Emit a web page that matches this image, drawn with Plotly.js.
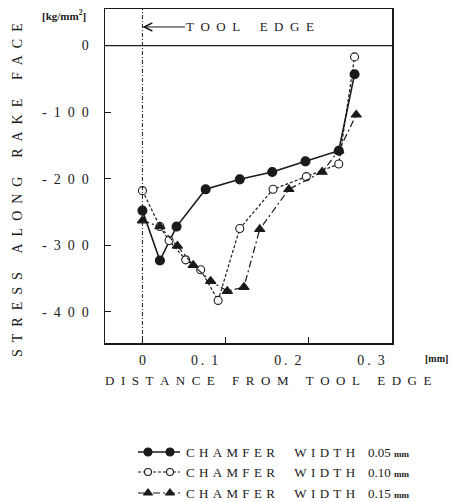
<!DOCTYPE html>
<html>
<head>
<meta charset="utf-8">
<script src="https://cdn.plot.ly/plotly-3.0.1.min.js"></script>
<style>
  html, body { margin: 0; padding: 0; background: #fff; }
  #chart { width: 450px; height: 502px; }
</style>
</head>
<body>
<div id="chart"></div>
<script>
// ---- data ----
const chamferWidths = ['0.05', '0.10', '0.15'];

const distance005 = [0, 0.021, 0.041, 0.076, 0.117, 0.156, 0.196, 0.236, 0.255];
const stress005   = [-248, -323, -272, -216, -201, -190, -174, -158, -43];

const distance010 = [0, 0.021, 0.032, 0.052, 0.070, 0.091, 0.117, 0.157, 0.197, 0.236, 0.255];
const stress010   = [-218, -272, -293, -322, -337, -383, -275, -216, -197, -178, -17];

const distance015 = [0, 0.021, 0.042, 0.061, 0.082, 0.102, 0.122, 0.141, 0.176, 0.216, 0.236, 0.257];
const stress015   = [-263, -272, -301, -330, -354, -369, -363, -276, -216, -190, -158, -104];

const xTickVals = [0, 0.1, 0.2, 0.3];
const xTickText = ['0', '0\u2009.\u20021', '0\u2009.\u20022', '0\u2009.\u20023'];
const yTickVals = [0, -100, -200, -300, -400];
const yTickText = ['0', '-\u20021\u20020\u20020', '-\u20022\u20020\u20020', '-\u20023\u20020\u20020', '-\u20024\u20020\u20020'];

const toolEdgeX = 0;

// ---- helpers ----
const W = 450, H = 502;
const px = v => v / W;
const py = v => 1 - v / H;
function spaced(s, gap, wgap) {
  return s.split(' ').map(w => w.split('').join(gap)).join(wgap);
}
const FONT = 'Liberation Serif, Times New Roman, serif';
const INK = '#1a1a1a';
// trailing pad that nudges the 0.1 / 0.2 / 0.3 labels left, as in the scan
const PAD = '\u2003\u2003\u2003';

const series = [
  {x: distance005, y: stress005, fill: INK,     dash: 'solid',           width: 1.6, size: 9, sym: 'circle'},
  {x: distance010, y: stress010, fill: 'white', dash: '3px,2px',         width: 1.2, size: 8, sym: 'circle'},
  {x: distance015, y: stress015, fill: INK,     dash: '7px,3px,2px,3px', width: 1.2, size: 9, sym: 'triangle-up'}
];

const traces = series.map((s, i) => ({
  type: 'scatter', mode: 'lines+markers',
  x: s.x, y: s.y, xaxis: 'x', yaxis: 'y',
  line: {color: INK, width: s.width, dash: s.dash},
  marker: {symbol: s.sym, size: s.size, color: s.fill, line: {color: INK, width: 1.1}},
  name: 'CHAMFER WIDTH ' + chamferWidths[i],
  showlegend: false, hoverinfo: 'x+y'
}));

// legend keys on an overlay axis measured in page pixels
const legendRows = [452, 472, 493];
series.forEach((s, i) => {
  const yy = legendRows[i];
  traces.push({
    type: 'scatter', mode: 'lines', xaxis: 'x2', yaxis: 'y2',
    x: [138, 180], y: [yy, yy],
    line: {color: INK, width: s.width, dash: s.dash},
    showlegend: false, hoverinfo: 'skip'
  });
  traces.push({
    type: 'scatter', mode: 'markers', xaxis: 'x2', yaxis: 'y2',
    x: [148, 170], y: [yy, yy],
    marker: {symbol: s.sym, size: s.size - 1, color: s.fill, line: {color: INK, width: 1.1}},
    showlegend: false, hoverinfo: 'skip'
  });
});

const annotations = [];
// y axis title
annotations.push({xref: 'paper', yref: 'paper', x: px(17), y: py(190), textangle: -90,
  text: spaced('STRESS ALONG RAKE FACE', '\u2002', '\u2003\u2004'),
  showarrow: false, font: {family: FONT, size: 14, color: INK}, xanchor: 'center', yanchor: 'middle'});
// unit of stress
annotations.push({xref: 'paper', yref: 'paper', x: px(64), y: py(15),
  text: '<b>[kg/mm<sup>2</sup>]</b>', showarrow: false,
  font: {family: FONT, size: 11, color: INK}, xanchor: 'center', yanchor: 'middle'});
// x axis title
annotations.push({xref: 'paper', yref: 'paper', x: px(268), y: py(380),
  text: spaced('DISTANCE FROM TOOL EDGE', '\u2002', '\u2003\u2004'),
  showarrow: false, font: {family: FONT, size: 13, color: INK}, xanchor: 'center', yanchor: 'middle'});
// unit of distance
annotations.push({xref: 'paper', yref: 'paper', x: px(436), y: py(358),
  text: '<b>[mm]</b>', showarrow: false,
  font: {family: FONT, size: 10, color: INK}, xanchor: 'center', yanchor: 'middle'});
// tool edge arrow
annotations.push({xref: 'x', yref: 'y', x: toolEdgeX, y: 28,
  text: spaced('TOOL EDGE', '\u2002', '\u2003\u2002'),
  showarrow: true, arrowhead: 5, arrowsize: 1.6, arrowwidth: 1, arrowcolor: INK,
  ax: 108, ay: 0, standoff: 0,
  font: {family: FONT, size: 13, color: INK}});
// legend texts
chamferWidths.forEach((w, i) => {
  annotations.push({xref: 'paper', yref: 'paper', x: px(184), y: py(legendRows[i]),
    text: spaced('CHAMFER WIDTH', '\u2004', '\u2003\u2002') + '\u2003' + w + ' <b><span style="font-size:9px">mm</span></b>',
    showarrow: false, xanchor: 'left', yanchor: 'middle',
    font: {family: FONT, size: 13, color: INK}});
});

const layout = {
  width: W, height: H,
  margin: {l: 0, r: 0, t: 0, b: 0},
  paper_bgcolor: 'white', plot_bgcolor: 'rgba(0,0,0,0)',
  showlegend: false,
  xaxis: {
    domain: [px(105), px(392)], range: [-0.045, 0.3], anchor: 'y',
    tickvals: xTickVals, ticktext: xTickText.map((t, i) => i === 0 ? t : t + PAD),
    ticks: 'inside', ticklen: 6, tickwidth: 1, tickcolor: INK,
    showline: true, mirror: true, linecolor: INK, linewidth: 1.5,
    showgrid: false, zeroline: false,
    tickfont: {family: FONT, size: 14, color: INK}, ticklabelstandoff: 4
  },
  yaxis: {
    domain: [1 - 343 / H, 1 - 9 / H], range: [-447, 55], anchor: 'x',
    tickvals: yTickVals, ticktext: yTickText,
    ticks: 'inside', ticklen: 6, tickwidth: 1, tickcolor: INK,
    showline: true, mirror: true, linecolor: INK, linewidth: 1.5,
    showgrid: false, zeroline: false,
    tickfont: {family: FONT, size: 14, color: INK}, ticklabelstandoff: 12
  },
  xaxis2: {domain: [0, 1], range: [0, W], anchor: 'y2', visible: false, fixedrange: true},
  yaxis2: {domain: [0, 1], range: [H, 0], anchor: 'x2', visible: false, fixedrange: true},
  shapes: [
    {type: 'line', xref: 'x domain', yref: 'y', x0: 0, x1: 1, y0: 0, y1: 0,
     line: {color: INK, width: 1.3}},
    {type: 'line', xref: 'x', yref: 'y domain', x0: toolEdgeX, x1: toolEdgeX, y0: 0, y1: 1,
     line: {color: INK, width: 1, dash: '4px,2px,1px,2px'}}
  ],
  annotations: annotations
};

Plotly.newPlot('chart', traces, layout, {staticPlot: true, displayModeBar: false});
</script>
</body>
</html>
